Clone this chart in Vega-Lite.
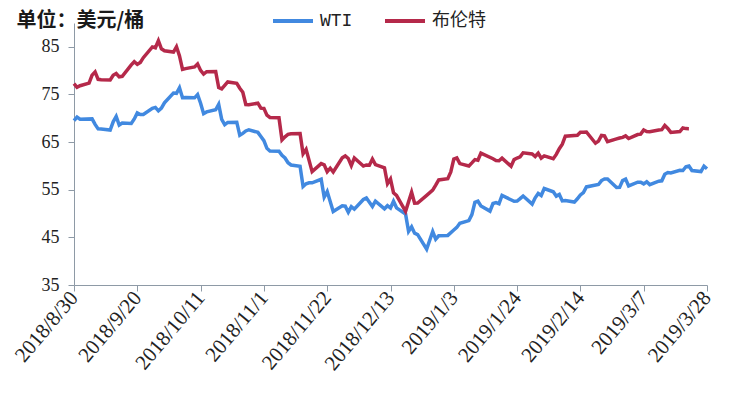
{
  "$schema": "https://vega.github.io/schema/vega-lite/v6.json",
  "width": 633,
  "height": 262,
  "autosize": {"type": "none"},
  "padding": {"left": 74, "top": 23, "right": 23, "bottom": 108},
  "background": "white",
  "config": {"view": {"stroke": null}},
  "datasets": {
    "wti": [
      {"d": "2018-08-30", "v": 69.51}, {"d": "2018-08-31", "v": 70.25}, {"d": "2018-09-01", "v": 69.80},
      {"d": "2018-09-05", "v": 69.87}, {"d": "2018-09-06", "v": 68.72}, {"d": "2018-09-07", "v": 67.77},
      {"d": "2018-09-08", "v": 67.75}, {"d": "2018-09-11", "v": 67.54}, {"d": "2018-09-12", "v": 69.25},
      {"d": "2018-09-13", "v": 70.37}, {"d": "2018-09-14", "v": 68.59}, {"d": "2018-09-15", "v": 68.99},
      {"d": "2018-09-18", "v": 68.91}, {"d": "2018-09-19", "v": 69.85}, {"d": "2018-09-20", "v": 71.12},
      {"d": "2018-09-21", "v": 70.80}, {"d": "2018-09-22", "v": 70.78}, {"d": "2018-09-25", "v": 72.08},
      {"d": "2018-09-26", "v": 72.28}, {"d": "2018-09-27", "v": 71.57}, {"d": "2018-09-28", "v": 72.12},
      {"d": "2018-09-29", "v": 73.25}, {"d": "2018-10-02", "v": 75.30}, {"d": "2018-10-03", "v": 75.23},
      {"d": "2018-10-04", "v": 76.41}, {"d": "2018-10-05", "v": 74.33}, {"d": "2018-10-06", "v": 74.34},
      {"d": "2018-10-09", "v": 74.29}, {"d": "2018-10-10", "v": 74.96}, {"d": "2018-10-11", "v": 73.17},
      {"d": "2018-10-12", "v": 70.97}, {"d": "2018-10-13", "v": 71.34}, {"d": "2018-10-16", "v": 71.78},
      {"d": "2018-10-17", "v": 72.92}, {"d": "2018-10-18", "v": 69.75}, {"d": "2018-10-19", "v": 68.65},
      {"d": "2018-10-20", "v": 69.12}, {"d": "2018-10-23", "v": 69.17}, {"d": "2018-10-24", "v": 66.43},
      {"d": "2018-10-25", "v": 66.82}, {"d": "2018-10-26", "v": 67.33}, {"d": "2018-10-27", "v": 67.59},
      {"d": "2018-10-30", "v": 67.04}, {"d": "2018-10-31", "v": 66.18}, {"d": "2018-11-01", "v": 65.31},
      {"d": "2018-11-02", "v": 63.69}, {"d": "2018-11-03", "v": 63.14}, {"d": "2018-11-06", "v": 63.10},
      {"d": "2018-11-07", "v": 62.21}, {"d": "2018-11-08", "v": 61.67}, {"d": "2018-11-09", "v": 60.67},
      {"d": "2018-11-10", "v": 60.19}, {"d": "2018-11-13", "v": 59.93}, {"d": "2018-11-14", "v": 55.69},
      {"d": "2018-11-15", "v": 56.25}, {"d": "2018-11-16", "v": 56.46}, {"d": "2018-11-17", "v": 56.46},
      {"d": "2018-11-20", "v": 57.20}, {"d": "2018-11-21", "v": 53.43}, {"d": "2018-11-22", "v": 54.63},
      {"d": "2018-11-24", "v": 50.42}, {"d": "2018-11-27", "v": 51.63}, {"d": "2018-11-28", "v": 51.56},
      {"d": "2018-11-29", "v": 50.29}, {"d": "2018-11-30", "v": 51.45}, {"d": "2018-12-01", "v": 50.93},
      {"d": "2018-12-04", "v": 52.95}, {"d": "2018-12-05", "v": 53.25}, {"d": "2018-12-07", "v": 51.49},
      {"d": "2018-12-08", "v": 52.61}, {"d": "2018-12-11", "v": 51.00}, {"d": "2018-12-12", "v": 51.65},
      {"d": "2018-12-13", "v": 51.15}, {"d": "2018-12-14", "v": 52.58}, {"d": "2018-12-15", "v": 51.20},
      {"d": "2018-12-18", "v": 49.88}, {"d": "2018-12-19", "v": 46.24}, {"d": "2018-12-20", "v": 47.20},
      {"d": "2018-12-21", "v": 45.88}, {"d": "2018-12-22", "v": 45.59}, {"d": "2018-12-25", "v": 42.53},
      {"d": "2018-12-27", "v": 46.22}, {"d": "2018-12-28", "v": 44.61}, {"d": "2018-12-29", "v": 45.33},
      {"d": "2019-01-01", "v": 45.41}, {"d": "2019-01-03", "v": 46.54}, {"d": "2019-01-04", "v": 47.09},
      {"d": "2019-01-05", "v": 47.96}, {"d": "2019-01-08", "v": 48.52}, {"d": "2019-01-09", "v": 49.78},
      {"d": "2019-01-10", "v": 52.36}, {"d": "2019-01-11", "v": 52.59}, {"d": "2019-01-12", "v": 51.59},
      {"d": "2019-01-15", "v": 50.51}, {"d": "2019-01-16", "v": 52.11}, {"d": "2019-01-17", "v": 52.31},
      {"d": "2019-01-18", "v": 52.07}, {"d": "2019-01-19", "v": 53.80}, {"d": "2019-01-23", "v": 52.57},
      {"d": "2019-01-24", "v": 52.62}, {"d": "2019-01-25", "v": 53.13}, {"d": "2019-01-26", "v": 53.69},
      {"d": "2019-01-29", "v": 51.99}, {"d": "2019-01-30", "v": 53.31}, {"d": "2019-01-31", "v": 54.23},
      {"d": "2019-02-01", "v": 53.79}, {"d": "2019-02-02", "v": 55.26}, {"d": "2019-02-05", "v": 54.56},
      {"d": "2019-02-06", "v": 53.66}, {"d": "2019-02-07", "v": 54.01}, {"d": "2019-02-08", "v": 52.64},
      {"d": "2019-02-09", "v": 52.72}, {"d": "2019-02-12", "v": 52.41}, {"d": "2019-02-13", "v": 53.10},
      {"d": "2019-02-14", "v": 53.90}, {"d": "2019-02-15", "v": 54.41}, {"d": "2019-02-16", "v": 55.59},
      {"d": "2019-02-20", "v": 56.09}, {"d": "2019-02-21", "v": 56.92}, {"d": "2019-02-22", "v": 57.26},
      {"d": "2019-02-23", "v": 57.26}, {"d": "2019-02-26", "v": 55.48}, {"d": "2019-02-27", "v": 55.50},
      {"d": "2019-02-28", "v": 56.94}, {"d": "2019-03-01", "v": 57.22}, {"d": "2019-03-02", "v": 55.80},
      {"d": "2019-03-05", "v": 56.59}, {"d": "2019-03-06", "v": 56.56}, {"d": "2019-03-07", "v": 56.22},
      {"d": "2019-03-08", "v": 56.66}, {"d": "2019-03-09", "v": 56.07}, {"d": "2019-03-12", "v": 56.79},
      {"d": "2019-03-13", "v": 56.87}, {"d": "2019-03-14", "v": 58.26}, {"d": "2019-03-15", "v": 58.61},
      {"d": "2019-03-16", "v": 58.52}, {"d": "2019-03-19", "v": 59.09}, {"d": "2019-03-20", "v": 59.03},
      {"d": "2019-03-21", "v": 59.83}, {"d": "2019-03-22", "v": 59.98}, {"d": "2019-03-23", "v": 59.04},
      {"d": "2019-03-26", "v": 58.82}, {"d": "2019-03-27", "v": 59.94}, {"d": "2019-03-28", "v": 59.41}
    ],
    "brent": [
      {"d": "2018-08-30", "v": 77.27}, {"d": "2018-08-31", "v": 76.50}, {"d": "2018-09-01", "v": 76.83},
      {"d": "2018-09-04", "v": 77.37}, {"d": "2018-09-05", "v": 79.06}, {"d": "2018-09-06", "v": 79.74},
      {"d": "2018-09-07", "v": 78.18}, {"d": "2018-09-08", "v": 78.09}, {"d": "2018-09-11", "v": 78.05},
      {"d": "2018-09-12", "v": 79.03}, {"d": "2018-09-13", "v": 79.40}, {"d": "2018-09-14", "v": 78.70},
      {"d": "2018-09-15", "v": 78.80}, {"d": "2018-09-18", "v": 81.20}, {"d": "2018-09-19", "v": 81.87},
      {"d": "2018-09-20", "v": 81.34}, {"d": "2018-09-21", "v": 81.72}, {"d": "2018-09-22", "v": 82.72},
      {"d": "2018-09-25", "v": 84.98}, {"d": "2018-09-26", "v": 84.80}, {"d": "2018-09-27", "v": 86.29},
      {"d": "2018-09-28", "v": 84.58}, {"d": "2018-09-29", "v": 84.16}, {"d": "2018-10-02", "v": 83.91},
      {"d": "2018-10-03", "v": 85.00}, {"d": "2018-10-04", "v": 83.09}, {"d": "2018-10-05", "v": 80.26},
      {"d": "2018-10-06", "v": 80.43}, {"d": "2018-10-09", "v": 80.78}, {"d": "2018-10-10", "v": 81.41},
      {"d": "2018-10-11", "v": 80.05}, {"d": "2018-10-12", "v": 79.29}, {"d": "2018-10-13", "v": 79.78},
      {"d": "2018-10-16", "v": 79.83}, {"d": "2018-10-17", "v": 76.44}, {"d": "2018-10-18", "v": 76.17},
      {"d": "2018-10-19", "v": 76.89}, {"d": "2018-10-20", "v": 77.62}, {"d": "2018-10-23", "v": 77.34},
      {"d": "2018-10-24", "v": 76.31}, {"d": "2018-10-25", "v": 75.47}, {"d": "2018-10-26", "v": 72.89},
      {"d": "2018-10-27", "v": 72.83}, {"d": "2018-10-30", "v": 73.17}, {"d": "2018-10-31", "v": 72.13},
      {"d": "2018-11-01", "v": 72.07}, {"d": "2018-11-02", "v": 70.65}, {"d": "2018-11-03", "v": 70.18},
      {"d": "2018-11-06", "v": 70.12}, {"d": "2018-11-07", "v": 65.47}, {"d": "2018-11-08", "v": 66.12},
      {"d": "2018-11-09", "v": 66.62}, {"d": "2018-11-10", "v": 66.76}, {"d": "2018-11-13", "v": 66.79},
      {"d": "2018-11-14", "v": 62.53}, {"d": "2018-11-15", "v": 63.48}, {"d": "2018-11-17", "v": 58.80},
      {"d": "2018-11-20", "v": 60.48}, {"d": "2018-11-21", "v": 60.21}, {"d": "2018-11-22", "v": 58.76},
      {"d": "2018-11-23", "v": 59.51}, {"d": "2018-11-24", "v": 58.71}, {"d": "2018-11-27", "v": 61.69},
      {"d": "2018-11-28", "v": 62.08}, {"d": "2018-11-29", "v": 61.56}, {"d": "2018-11-30", "v": 60.06},
      {"d": "2018-12-01", "v": 61.67}, {"d": "2018-12-04", "v": 59.97}, {"d": "2018-12-05", "v": 60.20},
      {"d": "2018-12-06", "v": 60.15}, {"d": "2018-12-07", "v": 61.45}, {"d": "2018-12-08", "v": 60.28},
      {"d": "2018-12-11", "v": 59.61}, {"d": "2018-12-12", "v": 56.26}, {"d": "2018-12-13", "v": 57.24},
      {"d": "2018-12-14", "v": 54.35}, {"d": "2018-12-15", "v": 53.82}, {"d": "2018-12-18", "v": 50.47},
      {"d": "2018-12-20", "v": 54.47}, {"d": "2018-12-21", "v": 52.16}, {"d": "2018-12-22", "v": 52.20},
      {"d": "2018-12-25", "v": 53.80}, {"d": "2018-12-27", "v": 54.91}, {"d": "2018-12-28", "v": 55.95},
      {"d": "2018-12-29", "v": 57.06}, {"d": "2019-01-01", "v": 57.33}, {"d": "2019-01-02", "v": 58.72},
      {"d": "2019-01-03", "v": 61.44}, {"d": "2019-01-04", "v": 61.68}, {"d": "2019-01-05", "v": 60.48},
      {"d": "2019-01-08", "v": 59.99}, {"d": "2019-01-09", "v": 60.64}, {"d": "2019-01-10", "v": 61.32},
      {"d": "2019-01-11", "v": 61.18}, {"d": "2019-01-12", "v": 62.70}, {"d": "2019-01-16", "v": 61.50},
      {"d": "2019-01-17", "v": 61.14}, {"d": "2019-01-18", "v": 61.09}, {"d": "2019-01-19", "v": 61.64},
      {"d": "2019-01-22", "v": 59.93}, {"d": "2019-01-23", "v": 61.32}, {"d": "2019-01-24", "v": 61.65},
      {"d": "2019-01-25", "v": 61.89}, {"d": "2019-01-26", "v": 62.75}, {"d": "2019-01-29", "v": 62.51},
      {"d": "2019-01-30", "v": 61.98}, {"d": "2019-01-31", "v": 62.69}, {"d": "2019-02-01", "v": 61.63},
      {"d": "2019-02-02", "v": 62.10}, {"d": "2019-02-05", "v": 61.51}, {"d": "2019-02-06", "v": 62.42},
      {"d": "2019-02-07", "v": 63.61}, {"d": "2019-02-08", "v": 64.57}, {"d": "2019-02-09", "v": 66.25},
      {"d": "2019-02-13", "v": 66.45}, {"d": "2019-02-14", "v": 67.08}, {"d": "2019-02-15", "v": 67.07},
      {"d": "2019-02-16", "v": 67.12}, {"d": "2019-02-19", "v": 64.76}, {"d": "2019-02-20", "v": 65.21},
      {"d": "2019-02-21", "v": 66.39}, {"d": "2019-02-22", "v": 66.31}, {"d": "2019-02-23", "v": 65.07},
      {"d": "2019-02-26", "v": 65.67}, {"d": "2019-02-27", "v": 65.86}, {"d": "2019-02-28", "v": 65.99},
      {"d": "2019-03-01", "v": 66.30}, {"d": "2019-03-02", "v": 65.74}, {"d": "2019-03-05", "v": 66.58},
      {"d": "2019-03-06", "v": 66.67}, {"d": "2019-03-07", "v": 67.55}, {"d": "2019-03-08", "v": 67.23},
      {"d": "2019-03-09", "v": 67.16}, {"d": "2019-03-12", "v": 67.54}, {"d": "2019-03-13", "v": 67.61},
      {"d": "2019-03-14", "v": 68.50}, {"d": "2019-03-15", "v": 67.86}, {"d": "2019-03-16", "v": 67.03},
      {"d": "2019-03-19", "v": 67.21}, {"d": "2019-03-20", "v": 67.97}, {"d": "2019-03-21", "v": 67.83},
      {"d": "2019-03-22", "v": 67.82}
    ]
  },
  "encoding": {
    "x": {
      "field": "d",
      "type": "temporal",
      "scale": {
        "type": "utc",
        "domain": [{"year": 2018, "month": 8, "date": 30, "utc": true}, {"year": 2019, "month": 3, "date": 28, "utc": true}]
      },
      "axis": {
        "title": null,
        "values": [
          {"year": 2018, "month": 8, "date": 30, "utc": true},
          {"year": 2018, "month": 9, "date": 20, "utc": true},
          {"year": 2018, "month": 10, "date": 11, "utc": true},
          {"year": 2018, "month": 11, "date": 1, "utc": true},
          {"year": 2018, "month": 11, "date": 22, "utc": true},
          {"year": 2018, "month": 12, "date": 13, "utc": true},
          {"year": 2019, "month": 1, "date": 3, "utc": true},
          {"year": 2019, "month": 1, "date": 24, "utc": true},
          {"year": 2019, "month": 2, "date": 14, "utc": true},
          {"year": 2019, "month": 3, "date": 7, "utc": true},
          {"year": 2019, "month": 3, "date": 28, "utc": true}
        ],
        "format": "%Y/%-m/%-d",
        "labelAngle": -50,
        "labelAlign": "right",
        "labelBaseline": "middle",
        "labelFont": "Liberation Serif",
        "labelFontSize": 21,
        "labelColor": "#222222",
        "labelPadding": 3,
        "labelOverlap": false,
        "labelBound": false,
        "labelFlush": false,
        "grid": false,
        "domainColor": "#8e9aa6",
        "tickColor": "#8e9aa6",
        "tickSize": 6
      }
    },
    "y": {
      "field": "v",
      "type": "quantitative",
      "scale": {"domain": [35, 90], "zero": false, "nice": false},
      "axis": {
        "title": "单位：美元/桶",
        "titleAngle": 0,
        "titleAlign": "left",
        "titleBaseline": "middle",
        "titleX": -58,
        "titleY": -3,
        "titleFont": "Noto Sans CJK SC",
        "titleFontSize": 20,
        "titleFontWeight": "bold",
        "titleColor": "#1a1a1a",
        "values": [35, 45, 55, 65, 75, 85],
        "labelFont": "Liberation Serif",
        "labelFontSize": 18,
        "labelColor": "#222222",
        "labelPadding": 9,
        "grid": false,
        "domainColor": "#8e9aa6",
        "tickColor": "#8e9aa6",
        "tickSize": 6
      }
    },
    "color": {
      "field": "s",
      "type": "nominal",
      "scale": {"domain": ["WTI", "布伦特"], "range": ["#4189E0", "#B5294A"]},
      "legend": {
        "title": null,
        "orient": "none",
        "legendX": 197,
        "legendY": -24,
        "direction": "horizontal",
        "symbolType": "stroke",
        "symbolSize": 1600,
        "symbolStrokeWidth": 4,
        "labelFont": "Liberation Mono, Noto Sans CJK SC",
        "labelFontSize": 18,
        "labelColor": "#222222",
        "labelOffset": 5,
        "columnPadding": 24,
        "padding": 0
      }
    }
  },
  "layer": [
    {
      "data": {"name": "wti"},
      "transform": [{"calculate": "'WTI'", "as": "s"}],
      "mark": {"type": "line", "strokeWidth": 3.5, "interpolate": "linear"}
    },
    {
      "data": {"name": "brent"},
      "transform": [{"calculate": "'布伦特'", "as": "s"}],
      "mark": {"type": "line", "strokeWidth": 3.5, "interpolate": "linear"}
    }
  ]
}
